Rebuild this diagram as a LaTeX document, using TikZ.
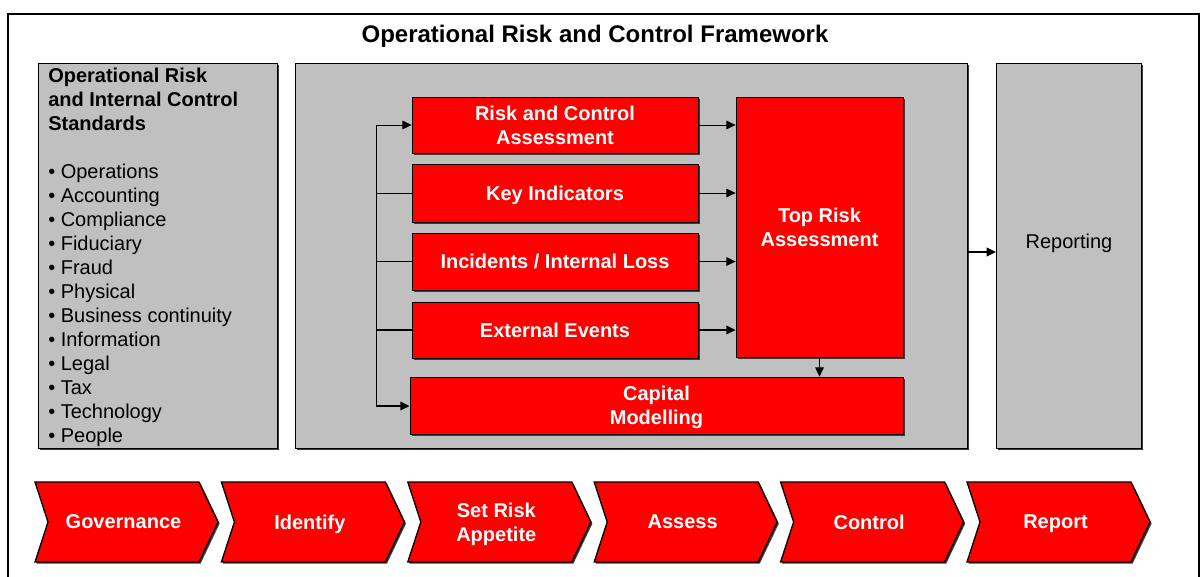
\documentclass[tikz,border=0pt]{standalone}
\usepackage{fontspec}
\setmainfont{Liberation Sans}
\usetikzlibrary{arrows.meta,shadows,fit}
\definecolor{boxred}{HTML}{FF0000}
\definecolor{panelgray}{HTML}{C0C0C0}
\definecolor{shadowgray}{HTML}{3A3A3A}
\begin{document}
\begin{tikzpicture}[x=0.75pt,y=-0.75pt,
  boxshadow/.style={drop shadow={shadow xshift=1.2pt,shadow yshift=-1.2pt,fill=shadowgray,opacity=1}},
  panel/.style={draw=black,line width=0.6pt,fill=panelgray,inner sep=0pt,boxshadow},
  redbox/.style={draw=black,line width=0.6pt,fill=boxred,inner sep=0pt,boxshadow,
    rectangle,text=white,font=\fontsize{15}{18}\selectfont\bfseries,align=center},
  chev/.style={fill=boxred,draw=black,line width=1pt,line join=miter,boxshadow},
  chevtext/.style={text=white,font=\fontsize{15}{18}\selectfont\bfseries,align=center},
  arr/.style={-{Triangle[length=7pt,width=6.5pt]},line width=0.75pt},
  link/.style={line width=0.75pt}]
\useasboundingbox (0,0) rectangle (1202,576);
\clip (0,0) rectangle (1202,576);

% outer frame (open at the bottom edge)
\draw[line width=1.5pt] (8,600) -- (8,14) -- (1199,14) -- (1199,600);

% title
\node[font=\fontsize{18}{22}\selectfont\bfseries,anchor=base] (title) at (595,42)
  {Operational Risk and Control Framework};

% grey panels
\node[panel,fit={(38,63) (277,448)}] (std) {};
\node[panel,fit={(295,63) (967,448)}] (core) {};
\node[panel,fit={(996,63) (1141,448)}] (rep) {};

% standards list
\node[anchor=north west,inner sep=0pt,align=left,font=\fontsize{15}{18}\selectfont]
  (stdtext) at (48,68)
  {\textbf{Operational Risk}\\
   \textbf{and Internal Control}\\
   \textbf{Standards}\\[18pt]
   • Operations\\
   • Accounting\\
   • Compliance\\
   • Fiduciary\\
   • Fraud\\
   • Physical\\
   • Business continuity\\
   • Information\\
   • Legal\\
   • Tax\\
   • Technology\\
   • People};

\node[font=\fontsize{15}{18}\selectfont] (replabel) at (1069,243) {Reporting};

% red process boxes
\node[redbox,minimum width=214.5pt,minimum height=42pt] (rca) at (555,125) {Risk and Control\\Assessment};
\node[redbox,minimum width=214.5pt,minimum height=43.5pt,text depth=0pt] (ki) at (555,193) {Key Indicators};
\node[redbox,minimum width=214.5pt,minimum height=42.75pt] (inc) at (555,261.5) {Incidents / Internal Loss};
\node[redbox,minimum width=214.5pt,minimum height=42pt] (ext) at (555,330) {External Events};
\node[redbox,minimum width=125.25pt,minimum height=195pt] (trk) at (819.5,227) {Top Risk\\Assessment};
\node[redbox,minimum width=369.75pt,minimum height=42.75pt,text depth=0pt] (cap) at (656.5,405.5) {Capital\\Modelling};

% feed bus on the left
\coordinate (busT) at (376,125);
\coordinate (busB) at (376,406);
\draw[link] (busT) -- (busB);
\draw[arr] (busT) -- (rca.west);
\draw[link] (busT |- ki.west) -- (ki.west);
\draw[link] (busT |- inc.west) -- (inc.west);
\draw[line width=1.3pt] (busT |- ext.west) -- (ext.west);
\draw[arr,line width=1.3pt] (busB) -- (cap.west |- busB);

% into top risk assessment
\draw[arr] (rca.east) -- (rca.east -| trk.west);
\draw[arr] (ki.east) -- (ki.east -| trk.west);
\draw[arr] (inc.east) -- (inc.east -| trk.west);
\draw[arr,line width=1.2pt] (ext.east) -- (ext.east -| trk.west);
\draw[arr] (trk.south) -- (trk.south |- cap.north);

% to reporting
\coordinate (repin) at (996,252);
\draw[arr,line width=1.2pt] (core.east |- repin) -- (repin);

% process chevrons
\foreach \i/\t/\n in {0/Governance/cgov,1/Identify/cidf,2/{Set Risk\\Appetite}/cset,
                      3/Assess/cass,4/Control/cctl,5/Report/crep}{
  \pgfmathsetmacro\L{35+186.4*\i}
  \path[chev] (\L,482) -- ++(164,0) -- ++(19,40) -- ++(-19,40) -- ++(-164,0) -- ++(13,-40) -- cycle;
  \node[chevtext] (\n) at (\L+88.5,524) {\t\vphantom{Ag}};
}
\end{tikzpicture}
\end{document}
